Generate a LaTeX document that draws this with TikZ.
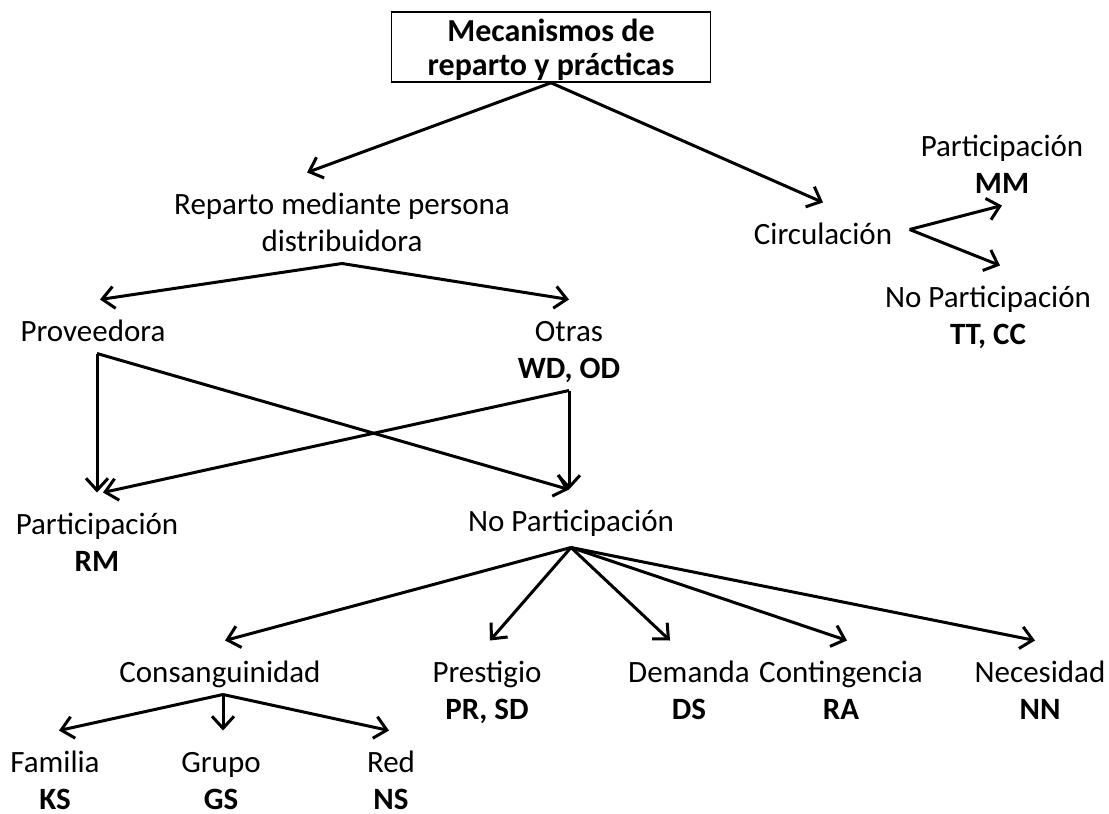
\documentclass[tikz,border=0pt]{standalone}
\usepackage{fontspec}
\setmainfont{Carlito}
\usetikzlibrary{positioning, arrows.meta}

\tikzset{
    lbl/.style={font=\fontsize{15.5}{18.5}\selectfont, inner sep=2pt, text height=18pt, text depth=3.5pt, anchor=base},
    nextline/.style={lbl, below=18.5pt of #1.base, anchor=base},
    sub/.style={nextline=#1, font=\fontsize{15.5}{18.5}\selectfont\bfseries},
    headbox/.style={draw, line width=0.8pt, minimum width=159.5pt, minimum height=35pt, align=center,
        text depth=0pt, font=\fontsize{16}{17}\selectfont\bfseries}
}

\begin{document}
\begin{tikzpicture}[x=0.5pt, y=-0.5pt, >={Straight Barb[length=6pt, width=11pt]},
    every path/.style={line width=1.5pt}]
        \useasboundingbox (0,0) rectangle (1109,814);

        %% NODES
        \node[headbox] (top) at (551,47) {Mecanismos de\\reparto y prácticas};
        \node[lbl] (rep) at (342,214) {Reparto mediante persona};
        \node[nextline=rep] (rep2) {distribuidora};
        \node[lbl] (circ) at (823,244) {Circulación};

        % Circulation branch
        \node[lbl] (cpart) at (1002,156) {Participación};
        \node[sub=cpart] (mm) {MM};
        \node[lbl] (cnopart) at (988,307) {No Participación};
        \node[sub=cnopart] (ttcc) {TT, CC};

        % Distributor branch
        \node[lbl] (prov) at (93,341) {Proveedora};
        \node[lbl] (otras) at (569,341) {Otras};
        \node[sub=otras] (wdod) {WD, OD};
        \node[lbl] (part) at (97,534) {Participación};
        \node[sub=part] (rm) {RM};
        \node[lbl] (nopart) at (571,531) {No Participación};

        % Kinds of no participation
        \node[lbl] (cons) at (220,682) {Consanguinidad};
        \node[lbl] (pres) at (487,682) {Prestigio};
        \node[sub=pres] (prsd) {PR, SD};
        \node[lbl] (dem) at (689,682) {Demanda};
        \node[sub=dem] (ds) {DS};
        \node[lbl] (cont) at (841,682) {Contingencia};
        \node[sub=cont] (ra) {RA};
        \node[lbl] (nec) at (1040,682) {Necesidad};
        \node[sub=nec] (nn) {NN};

        % Kinship
        \node[lbl] (fam) at (55,772) {Familia};
        \node[sub=fam] (ks) {KS};
        \node[lbl] (gru) at (221,772) {Grupo};
        \node[sub=gru] (gs) {GS};
        \node[lbl] (red) at (391,772) {Red};
        \node[sub=red] (ns) {NS};

        %% CONNECTORS - TOP
        \path[->]
            (top.south) edge ([xshift=-17.5pt]rep.north)
            (top.south) edge (circ.north)
            ([xshift=6pt]circ.east) edge (mm.south)
            ([xshift=6pt]circ.east) edge ([xshift=6pt]cnopart.north);

        %% CONNECTORS - DISTRIBUTOR
        \path[->]
            (rep2.south) edge ([xshift=3.5pt]prov.north)
            (rep2.south) edge (otras.north)
            ([xshift=2pt]prov.south) edge (part.north)
            ([xshift=2pt]prov.south) edge ([xshift=-1pt]nopart.north)
            (wdod.south) edge ([xshift=3pt]part.north)
            (wdod.south) edge ([xshift=-1pt]nopart.north);

        %% CONNECTORS - NO PARTICIPATION
        \path[->]
            ([yshift=-2pt]nopart.south) edge ([xshift=2.5pt]cons.north)
            ([yshift=-2pt]nopart.south) edge ([xshift=1.5pt]pres.north)
            ([yshift=-2pt]nopart.south) edge ([xshift=-9.5pt]dem.north)
            ([yshift=-2pt]nopart.south) edge ([xshift=3pt]cont.north)
            ([yshift=-2pt]nopart.south) edge ([xshift=-2.5pt]nec.north)
            ([xshift=1.5pt]cons.south) edge ([xshift=2pt]fam.north)
            ([xshift=1.5pt]cons.south) edge ([xshift=1pt]gru.north)
            ([xshift=1.5pt]cons.south) edge ([xshift=-1pt]red.north);

    \end{tikzpicture}
\end{document}
